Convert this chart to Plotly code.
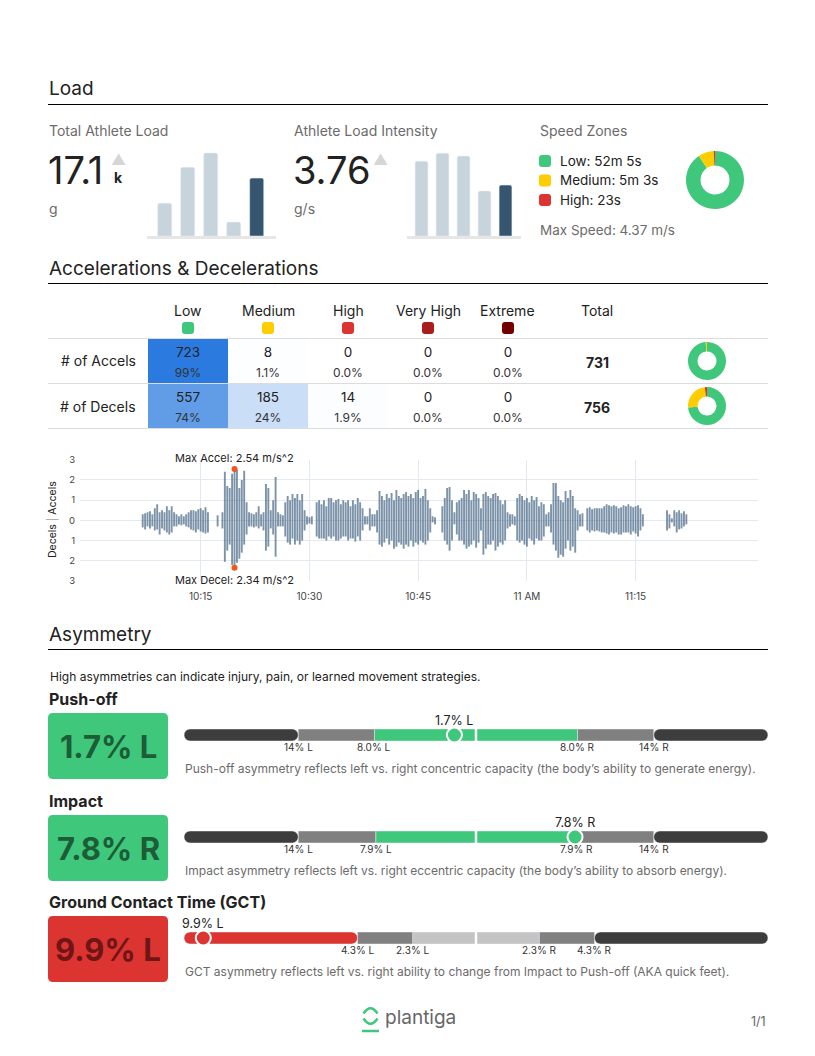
import plotly.graph_objects as go
import pandas as pd

W, H = 815, 1056
FONT = "Inter, 'Noto Sans', sans-serif"
INK = "#222222"
GREY = "#6b6b6b"
GREEN, YELLOW, RED = "#3fc77b", "#ffcc00", "#dc3430"

# ---------------- data ----------------
# load history (previous sessions, last one = this session)
load_history = [9.7, 20.3, 24.5, 4.1, 17.1]          # k g
intensity_history = [5.53, 6.12, 5.90, 3.32, 3.76]   # g/s
total_load = "17.1"
load_intensity = "3.76"

# speed zones
zone_names = ["Low", "Medium", "High"]
zone_seconds = [3125, 303, 23]
max_speed = 4.37

# accelerations / decelerations
intensity_names = ["Low", "Medium", "High", "Very High", "Extreme"]
intensity_colors = [GREEN, YELLOW, RED, "#a81e1e", "#720000"]
accel_counts = [723, 8, 0, 0, 0]
decel_counts = [557, 185, 14, 0, 0]

# accel / decel magnitudes (m/s^2), one reading every 20 s from 10:07:00
series_start = "2024-01-01 10:07:00"
accels = [
    0.3, 0.35, 0.4,  0.45, 0.3, 0.6,  0.8, 0.4, 0.5,  0.4, 0.7, 0.5,  0.7, 0.4, 0.3,
    0.2, 0.3, 0.2,  0.3, 0.4, 0.5,  0.5, 0.45, 0.55,  0.6, 0.5, 0.65,  0.4, 0, 0,
    0, 0.25, 0,  0.4, 2.4, 1.7,  1.6, 2.3, 2.54,  2.5, 1.6, 2.0,  2.45, 0.9, 0.4,
    0.35, 0.3, 0.4,  0.7, 0.3, 0.4,  1.8, 1.6, 0.5,  1.0, 2.15, 0.4,  0.3, 0.25, 0.9,
    1.2, 1.0, 1.3,  1.1, 1.3, 1.0,  1.3, 0.5, 0.2,  0.15, 0.2, 0,  0.9, 1.0, 0.8,
    1.0, 0.7, 1.1,  1.1, 0.9, 1.0,  1.05, 0.8, 1.0,  0.9, 1.0, 0.7,  1.0, 0.8, 1.1,
    0.9, 0.6, 0.2,  0.2, 0.6, 0.3,  0.3, 0.5, 1.45,  1.2, 1.0, 1.3,  1.1, 1.35, 1.0,
    1.5, 1.2, 1.1,  1.3, 1.4, 1.2,  1.3, 1.1, 1.4,  1.5, 1.1, 1.2,  1.55, 1.0, 0.6,
    0.2, 0.15, 0,  0, 0.7, 1.1,  1.6, 1.65, 1.0,  0.4, 0.9, 1.0,  1.1, 1.5, 1.3,
    1.5, 1.0, 1.4,  1.3, 1.1, 0.6,  1.3, 1.4, 1.2,  1.1, 1.3, 1.35,  1.2, 1.0, 0.8,
    1.0, 0.4, 0.3,  0.3, 0.2, 1.1,  1.3, 1.2, 1.0,  1.1, 0.9, 1.2,  1.0, 1.15, 0.7,
    0.9, 0.8, 0.3,  0.4, 0.8, 1.85,  1.85, 1.2, 1.0,  0.9, 1.45, 1.1,  1.5, 1.2, 0.6,
    0.5, 0.3, 0.35,  0, 0.6, 0.65,  0.55, 0.6, 0.6,  0.6, 0.6, 0.7,  0.8, 0.75, 0.7,
    0.75, 0.7, 0.6,  0.65, 0.75, 0.7,  0.8, 0.7, 0.65,  0.7, 0.75, 0.6,  0.3, 0, 0,
    0, 0, 0,  0, 0, 0,  0, 0.5, 0.3,  0.1, 0.5, 0.4,  0.5, 0.35, 0.45,  0.3,
]
decels = [
    0.35, 0.45, 0.3,  0.4, 0.3, 0.5,  0.45, 0.7, 0.4,  0.5, 0.6, 0.7,  0.6, 0.3, 0.3,
    0.2, 0.25, 0.2,  0.3, 0.35, 0.45,  0.5, 0.6, 0.45,  0.55, 0.6, 0.65,  0.6, 0, 0,
    0, 0.3, 0,  0.4, 2.05, 1.5,  1.2, 2.2, 2.34,  2.1, 1.9, 1.6,  1.2, 0.7, 0.3,
    0.3, 0.35, 0.3,  0.4, 0.3, 0.5,  1.5, 1.3, 0.4,  0.7, 1.8, 0.3,  0.3, 0.3, 0.8,
    1.1, 1.2, 0.9,  1.2, 1.0, 1.2,  1.0, 0.5, 0.2,  0.15, 0.2, 0,  0.8, 0.9, 0.9,
    0.9, 1.0, 0.8,  0.9, 0.8, 1.0,  1.0, 0.9, 0.8,  0.8, 1.0, 0.9,  0.9, 1.05, 0.8,
    1.0, 0.5, 0.2,  0.2, 0.5, 0.3,  0.3, 0.6, 1.2,  1.3, 1.1, 0.9,  1.2, 1.0, 1.4,
    1.3, 1.1, 1.2,  1.4, 1.2, 1.3,  1.0, 1.3, 1.1,  1.2, 1.0, 1.1,  1.2, 1.0, 0.6,
    0.1, 0.2, 0,  0, 0.6, 1.0,  1.2, 1.5, 1.0,  0.2, 0.7, 1.0,  1.0, 1.2, 1.4,
    1.3, 1.2, 1.0,  1.35, 1.1, 0.5,  1.7, 1.4, 1.2,  1.2, 1.0, 1.5,  1.3, 1.1, 1.2,
    1.0, 0.4, 0.3,  0.2, 0.25, 1.0,  1.1, 1.0, 1.2,  1.3, 0.9, 1.0,  1.2, 0.9, 1.0,
    1.0, 0.8, 0.3,  0.3, 0.6, 1.2,  1.5, 1.85, 1.7,  1.8, 1.4, 1.0,  1.5, 1.3, 1.6,
    0.5, 0.3, 0.3,  0, 0.5, 0.6,  0.5, 0.55, 0.5,  0.55, 0.6, 0.6,  0.65, 0.7, 0.6,
    0.65, 0.6, 0.7,  0.7, 0.6, 0.6,  0.6, 0.7, 0.55,  0.65, 0.8, 0.5,  0.3, 0, 0,
    0, 0, 0,  0, 0, 0,  0, 0.5, 0.4,  0.1, 0.3, 0.6,  0.45, 0.4, 0.3,  0.2,
]
time_ticks = ["10:15", "10:30", "10:45", "11:00", "11:15"]
time_tick_text = ["10:15", "10:30", "10:45", "11 AM", "11:15"]

# asymmetry (negative = left, positive = right)
asym_names = ["Push-off", "Impact", "Ground Contact Time (GCT)"]
asym_values = [-1.7, 7.8, -9.9]
asym_thresholds = [(8.0, 14), (7.9, 14), (2.3, 4.3)]
asym_span = [23, 23, 10.6]
asym_notes = [
    "Push-off asymmetry reflects left vs. right concentric capacity (the body\u2019s ability to generate energy).",
    "Impact asymmetry reflects left vs. right eccentric capacity (the body\u2019s ability to absorb energy).",
    "GCT asymmetry reflects left vs. right ability to change from Impact to Push-off (AKA quick feet).",
]


# ---------------- helpers ----------------
def fx(p):
    return p / W


def fy(p):
    return 1 - p / H


def pct(v):
    return f"{v:.0f}%" if v >= 10 else f"{v:.1f}%"


def dur(s):
    m, s = divmod(s, 60)
    return f"{m}m {s}s" if m else f"{s}s"


fig = go.Figure()


def text(x, y, s, size=13, color=INK, anchor="left", weight=400, xref="paper", **kw):
    fig.add_annotation(x=fx(x) if xref == "paper" else x, y=fy(y), xref=xref, yref="paper",
                       text=s, showarrow=False, xanchor=anchor, yanchor="middle",
                       font=dict(family=FONT, size=size, color=color, weight=weight), **kw)


def rrect(x0, y0, x1, y1, r, color):
    X = lambda v: f"{fx(v):.5f}"
    Y = lambda v: f"{fy(v):.5f}"
    path = (f"M{X(x0 + r)},{Y(y0)} L{X(x1 - r)},{Y(y0)} Q{X(x1)},{Y(y0)} {X(x1)},{Y(y0 + r)} "
            f"L{X(x1)},{Y(y1 - r)} Q{X(x1)},{Y(y1)} {X(x1 - r)},{Y(y1)} L{X(x0 + r)},{Y(y1)} "
            f"Q{X(x0)},{Y(y1)} {X(x0)},{Y(y1 - r)} L{X(x0)},{Y(y0 + r)} Q{X(x0)},{Y(y0)} {X(x0 + r)},{Y(y0)} Z")
    fig.add_shape(type="path", path=path, xref="paper", yref="paper",
                  fillcolor=color, line_width=0, layer="below")


def hline(x0, x1, y, color, width=1):
    fig.add_shape(type="line", xref="paper", yref="paper", x0=fx(x0), x1=fx(x1),
                  y0=fy(y), y1=fy(y), line=dict(color=color, width=width))


# section headings
for title, y in [("Load", 89), ("Accelerations & Decelerations", 268), ("Asymmetry", 634)]:
    text(47, y, title, size=19)
    hline(48, 768, y + 15.5, "#000000", 1.2)

# ---------------- load ----------------
bar_colors = ["#c8d4dc"] * 4 + ["#36566f"]
blocks = [
    (48, "Total Athlete Load", total_load, "k", "g", load_history, "x", "y", 153.2, 268.2, 26, 147, 276, 119),
    (293, "Athlete Load Intensity", load_intensity, "", "g/s", intensity_history, "x2", "y2", 411, 516, 6.5, 407, 521, 380),
]
axes = {}
for (x0, title, val, unit, base_unit, hist, xa, ya, d0, d1, top, b0, b1, tri) in blocks:
    text(x0 - 1, 131, title, size=14, color=GREY)
    text(x0 - 2, 170, val, size=38, color=INK)
    text(tri, 160, "\u25B2", size=15, color="#d6d6d6", anchor="center")
    if unit:
        text(tri - 1, 177, unit, size=14, weight=700, anchor="center")
    text(x0 - 1, 208, base_unit, size=14, color=GREY)
    fig.add_trace(go.Bar(x=list(range(len(hist))), y=hist, width=0.61,
                         marker=dict(color=bar_colors, cornerradius=2),
                         xaxis=xa, yaxis=ya, hoverinfo="skip"))
    hline(b0, b1, 237.5, "#e6e6e6", 3)
    axes[xa.replace("x", "xaxis")] = dict(domain=[fx(d0), fx(d1)], range=[-0.5, 4.5], visible=False, anchor=ya)
    axes[ya.replace("y", "yaxis")] = dict(domain=[fy(236), fy(148)], range=[0, top], visible=False, anchor=xa)

# speed zones
text(538, 131, "Speed Zones", size=14, color=GREY)
for i, (name, secs) in enumerate(zip(zone_names, zone_seconds)):
    yy = [161, 180.5, 200][i]
    rrect(539, yy - 6, 551, yy + 6, 3, [GREEN, YELLOW, RED][i])
    text(558, yy, f"{name}: {dur(secs)}", size=13.5)
text(538, 230, f"Max Speed: {max_speed:.2f} m/s", size=13.5, color=GREY)
fig.add_trace(go.Pie(values=zone_seconds, labels=zone_names, sort=False, direction="clockwise",
                     hole=0.5, textinfo="none", hoverinfo="skip",
                     marker=dict(colors=[GREEN, YELLOW, RED], line=dict(width=0)),
                     domain=dict(x=[fx(686), fx(744)], y=[fy(209), fy(151)])))

# ---------------- accel / decel table ----------------
accel_total, decel_total = sum(accel_counts), sum(decel_counts)
accel_pct = [c / accel_total * 100 for c in accel_counts]
decel_pct = [c / decel_total * 100 for c in decel_counts]
fig.add_trace(go.Heatmap(z=[accel_pct, decel_pct], x=list(range(5)), y=[0, 1],
                         colorscale=[[0, "#ffffff"], [1, "#2979df"]], zmin=0, zmax=100,
                         showscale=False, hoverinfo="skip", xaxis="x3", yaxis="y3"))
for r, (counts, pcts) in enumerate([(accel_counts, accel_pct), (decel_counts, decel_pct)]):
    fig.add_trace(go.Scatter(x=list(range(5)), y=[r - 0.16] * 5, mode="text",
                             text=[str(c) for c in counts], textfont=dict(size=13.5, color=INK, family=FONT),
                             xaxis="x3", yaxis="y3", hoverinfo="skip"))
    fig.add_trace(go.Scatter(x=list(range(5)), y=[r + 0.28] * 5, mode="text",
                             text=[pct(p) for p in pcts], textfont=dict(size=12, color="#333", family=FONT),
                             xaxis="x3", yaxis="y3", hoverinfo="skip"))
axes["xaxis3"] = dict(domain=[fx(148), fx(548)], range=[-0.5, 4.5], visible=False, anchor="y3")
axes["yaxis3"] = dict(domain=[fy(428.5), fy(338.5)], range=[1.5, -0.5], visible=False, anchor="x3")

for i, name in enumerate(intensity_names):
    cx = 148 + 80 * i + 40
    text(cx, 311, name, size=14, anchor="center")
    rrect(cx - 6, 322, cx + 6, 334, 3, intensity_colors[i])
text(597, 311, "Total", size=14, anchor="center")
for r, (label, total, counts) in enumerate([("# of Accels", accel_total, accel_counts),
                                             ("# of Decels", decel_total, decel_counts)]):
    cy = 361 + 45 * r
    text(98, cy, label, size=14, anchor="center")
    text(597, cy + 1, str(total), size=14, weight=700, anchor="center")
    fig.add_trace(go.Pie(values=counts, sort=False, direction="clockwise", hole=0.5,
                         textinfo="none", hoverinfo="skip",
                         marker=dict(colors=intensity_colors, line=dict(width=0)),
                         domain=dict(x=[fx(688), fx(726)], y=[fy(cy + 19), fy(cy - 19)])))
for y in [338.5, 383.5, 428.5]:
    hline(48, 768, y, "#dcdcdc")

# ---------------- accel / decel timeline ----------------
times = pd.date_range(series_start, periods=len(accels), freq="20s")
xs, ys = [], []
for t, a, d in zip(times, accels, decels):
    xs += [t, t, None]
    ys += [a, -d, None]
fig.add_trace(go.Scatter(x=xs, y=ys, mode="lines", line=dict(color="rgba(62,96,128,0.68)", width=1.9),
                         xaxis="x4", yaxis="y4", hoverinfo="skip"))
ia = max(range(len(accels)), key=lambda i: accels[i])
idd = max(range(len(decels)), key=lambda i: decels[i])
fig.add_trace(go.Scatter(x=[times[ia], times[idd]], y=[accels[ia], -decels[idd]], mode="markers",
                         marker=dict(color="#f0561d", size=6), cliponaxis=False,
                         xaxis="x4", yaxis="y4", hoverinfo="skip"))
text(times[ia], 458, f"Max Accel: {accels[ia]:.2f} m/s^2", size=11, anchor="center", xref="x4")
text(times[idd], 580, f"Max Decel: {decels[idd]:.2f} m/s^2", size=11, anchor="center", xref="x4")
text(52, 520, "Decels <span style='color:#b0b0b0'>|</span> Accels", size=10.5,
     anchor="center", textangle=-90)
grid = "#e4e9f1"
axes["xaxis4"] = dict(domain=[fx(80), fx(758)], type="date", anchor="y4", automargin=False,
                      range=["2024-01-01 09:58:21", "2024-01-01 11:31:53"],
                      tickvals=[f"2024-01-01 {t}" for t in time_ticks], ticktext=time_tick_text,
                      showgrid=True, gridcolor=grid, zeroline=False, showline=False, ticks="",
                      tickfont=dict(size=10, color="#444", family=FONT), ticklabelstandoff=8)
axes["yaxis4"] = dict(domain=[fy(581), fy(459.7)], range=[-3, 3], anchor="x4", automargin=False,
                      tickvals=[-3, -2, -1, 0, 1, 2, 3], ticktext=["3", "2", "1", "0", "1", "2", "3"],
                      showgrid=True, gridcolor=grid, zeroline=False, showline=False, ticks="",
                      tickfont=dict(size=9.5, color="#444", family=FONT), ticklabelstandoff=4)

# ---------------- asymmetry ----------------
text(48, 676, "High asymmetries can indicate injury, pain, or learned movement strategies.", size=12)
row_tops = [713, 815, 916]
neutral = ["#c4c4c4", "#808080", "#3d3d3d"]
for k, (name, v, (t1, t2), span, note, top) in enumerate(
        zip(asym_names, asym_values, asym_thresholds, asym_span, asym_notes, row_tops)):
    n = k + 5
    xa, ya = f"x{n}", f"y{n}"
    side = "L" if v < 0 else "R"
    band = 0 if abs(v) < t1 else (1 if abs(v) < t2 else 2)
    status = [GREEN, YELLOW, RED][band]
    dark = ["#1c5c37", "#6b5200", "#6e1616"][band]

    text(47, top - 14, name, size=16, weight=700)
    rrect(48, top, 168, top + 66, 5, status)
    text(108, top + 33, f"{pct(abs(v))} {side}", size=31, weight=700, color=dark, anchor="center")

    # bands: (start, end, band index, side sign)
    segs = [(-t1, 0, 0, -1), (0, t1, 0, 1), (-t1, -t2, 1, -1), (t1, t2, 1, 1)]
    outer = [(-t2, -span, 2, -1), (t2, span, 2, 1)]

    def colour(b, s):
        if b == band and (b == 0 or (s < 0) == (v < 0)):
            return status
        return neutral[b]

    fig.add_trace(go.Bar(y=[0] * 4, base=[s[0] for s in segs], x=[s[1] - s[0] for s in segs],
                         orientation="h", width=1, marker=dict(color=[colour(s[2], s[3]) for s in segs]),
                         xaxis=xa, yaxis=ya, hoverinfo="skip"))
    fig.add_trace(go.Bar(y=[0] * 2, base=[s[0] for s in outer], x=[s[1] - s[0] for s in outer],
                         orientation="h", width=1,
                         marker=dict(color=[colour(s[2], s[3]) for s in outer], cornerradius=6),
                         xaxis=xa, yaxis=ya, hoverinfo="skip"))
    fig.add_shape(type="line", xref=xa, yref=f"{ya} domain", x0=0, x1=0, y0=0, y1=1,
                  line=dict(color="white", width=2.5))
    fig.add_trace(go.Scatter(x=[v], y=[0], mode="markers", cliponaxis=False,
                             marker=dict(size=15, color=status, line=dict(color="white", width=2)),
                             xaxis=xa, yaxis=ya, hoverinfo="skip"))
    text(v, top + 7.5, f"{pct(abs(v))} {side}", size=12.5, anchor="center", xref=xa)
    for th in (t1, t2):
        for sgn, lab in ((-1, "L"), (1, "R")):
            text(sgn * th, top + 33.5, f"{pct(th)} {lab}", size=10, color="#333", anchor="center", xref=xa)
    text(183, top + 55.5, note, size=12, color=GREY)
    axes[f"xaxis{n}"] = dict(domain=[fx(184), fx(768)], range=[-span, span], visible=False, anchor=ya)
    axes[f"yaxis{n}"] = dict(domain=[fy(top + 28), fy(top + 16)], range=[-0.5, 0.5], visible=False, anchor=xa)

# ---------------- footer ----------------
X = lambda v: f"{fx(v):.5f}"
Y = lambda v: f"{fy(v):.5f}"
for p in [f"M{X(363.5)},{Y(1013.5)} Q{X(370.5)},{Y(1003)} {X(377.5)},{Y(1013.5)}",
          f"M{X(363.5)},{Y(1018.5)} Q{X(370.5)},{Y(1029)} {X(377.5)},{Y(1018.5)}",
          f"M{X(362)},{Y(1031)} L{X(379)},{Y(1031)}"]:
    fig.add_shape(type="path", path=p, xref="paper", yref="paper", line=dict(color=GREEN, width=2.5))
text(383, 1017, "plantiga", size=19, color="#666", weight=400)
text(768, 1021, "1/1", size=12.5, color="#666", anchor="right")

fig.update_layout(width=W, height=H, margin=dict(l=0, r=0, t=0, b=0, autoexpand=False),
                  paper_bgcolor="white", plot_bgcolor="rgba(0,0,0,0)", showlegend=False,
                  barmode="overlay", font=dict(family=FONT, color=INK), **axes)

fig.write_html("out.html", config={"displayModeBar": False},
               post_script="document.body.style.margin='0';document.body.style.overflow='hidden';")
